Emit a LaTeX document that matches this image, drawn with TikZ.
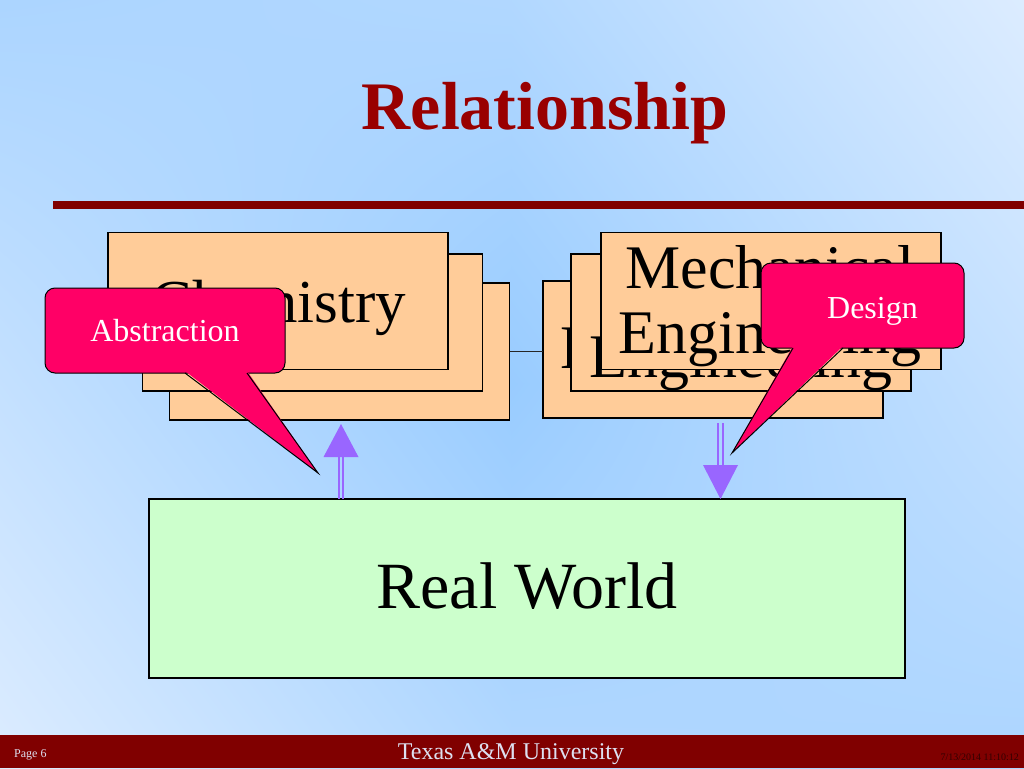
\documentclass[tikz,border=0pt]{standalone}
\usepackage{fontspec}
\setmainfont{Liberation Serif}
\usetikzlibrary{calc,shadings}
\definecolor{bgblue}{HTML}{99CCFF}
\definecolor{bglight}{HTML}{DCECFF}
\definecolor{titlered}{HTML}{990000}
\definecolor{rulered}{HTML}{800000}
\definecolor{peach}{HTML}{FFCC99}
\definecolor{mint}{HTML}{CCFFCC}
\definecolor{callpink}{HTML}{FF0066}
\definecolor{arrowpurple}{HTML}{9966FF}
\definecolor{footertext}{HTML}{DDE0F0}
\definecolor{datecol}{HTML}{330000}
\colorlet{bgA}{bglight!28!bgblue}
\colorlet{bgB}{bglight!36!bgblue}
\colorlet{bgC}{bglight!64!bgblue}
\begin{document}
\begin{tikzpicture}[x=1pt,y=-1pt,
  pbox/.style={draw=black, line width=1.4pt, fill=peach, minimum width=340pt, minimum height=137pt, inner sep=0pt, outer sep=0pt},
  boxtext/.style={font=\fontsize{62}{65}\selectfont, inner sep=0pt, anchor=base},
  callbox/.style={draw=black, line width=1pt, fill=callpink, rounded corners=10pt, inner sep=0pt, outer sep=0pt, text=white, font=\fontsize{32}{36}\selectfont},
  pointer/.style={draw=black, line width=1pt},
  shaft/.style={draw=arrowpurple, line width=1.6pt},
  head/.style={fill=arrowpurple}]
% background: diagonal gradient, light at top right and bottom left
\shade[upper left=bgA, upper right=bgB, lower left=bgC, lower right=bgblue] (0,0) rectangle (512.5,384.5);
\shade[upper left=bgB, upper right=bglight, lower left=bgblue, lower right=bgC] (511.5,0) rectangle (1024,384.5);
\shade[upper left=bgC, upper right=bgblue, lower left=bglight, lower right=bgB] (0,383.5) rectangle (512.5,768);
\shade[upper left=bgblue, upper right=bgC, lower left=bgB, lower right=bgA] (511.5,383.5) rectangle (1024,768);
\useasboundingbox (0,0) rectangle (1024,768);
% title and rule
\node[anchor=base, font=\bfseries\fontsize{68}{72}\selectfont, text=titlered, inner sep=0pt] (title) at (545,129) {Relationship};
\fill[rulered] (53,201) rectangle (1024,209);
% left stack
\node[pbox] (lback) at (339.5,351.5) {};
\node[pbox] (lmid) at (312.5,322.5) {};
\node[pbox] (lfront) at (278,301) {};
\node[boxtext, font=\fontsize{61}{65}\selectfont] (chem) at (279,322) {Chemistry};
% right stack
\node[pbox] (rback) at (713,349.5) {};
\draw[line width=1pt, draw=black!85] (lback.east) -- (lback.east -| rback.west);
\node[boxtext] (rbacktext) at (712,368) {Engineering};
\node[pbox] (rmid) at (741,322.5) {};
\node[boxtext] (rmidtext) at (741,377) {Engineering};
\node[pbox] (rfront) at (771,301) {};
\node[font=\fontsize{62}{65}\selectfont, align=center, inner sep=0pt, anchor=north] (mech) at (770,245.7) {Mechanical\\Engineering};
% real world
\node[draw=black, line width=1.4pt, fill=mint, minimum width=756pt, minimum height=179pt, inner sep=0pt, outer sep=0pt] (rw) at (527,588.5) {};
\node[font=\fontsize{66}{70}\selectfont, anchor=base, inner sep=0pt] (rwtext) at (527,608) {Real World};
% up arrow (abstraction)
\coordinate (upx) at (341,0);
\coordinate (upbase) at ($(lback.south -| upx)+(0,37)$);
\coordinate (uptip) at ($(lback.south -| upx)+(0,4)$);
\draw[shaft] ($(rw.north -| upx)+(-2,0)$) -- ($(upbase)+(-2,0)$);
\draw[shaft] ($(rw.north -| upx)+(2,0)$) -- ($(upbase)+(2,0)$);
\fill[head] ($(upbase)+(-17.5,0)$) -- ($(upbase)+(17.5,0)$) -- (uptip) -- cycle;
% down arrow (design)
\coordinate (dnx) at (720.5,0);
\coordinate (dnstart) at ($(rback.south -| dnx)+(0,5)$);
\coordinate (dnbase) at ($(rw.north -| dnx)+(0,-34)$);
\draw[shaft] ($(dnstart)+(-2.5,0)$) -- ($(dnbase)+(-2.5,0)$);
\draw[shaft] ($(dnstart)+(2.5,0)$) -- ($(dnbase)+(2.5,0)$);
\fill[head] ($(dnbase)+(-17.5,0)$) -- ($(dnbase)+(17.5,0)$) -- (rw.north -| dnx) -- cycle;
% abstraction callout
\node[callbox, minimum width=240pt, minimum height=85pt] (abs) at (165,330.5) {Abstraction};
\coordinate (abstip) at (318,473);
\fill[callpink] ($(abs.south west)+(140,-2)$) -- (abstip) -- ($(abs.south west)+(202,-2)$) -- cycle;
\draw[pointer] ($(abs.south west)+(140,0)$) -- (abstip) -- ($(abs.south west)+(202,0)$);
% design callout
\node[callbox, minimum width=203pt, minimum height=85pt] (des) at (862.5,305.5) {};
\node[text=white, font=\fontsize{32}{36}\selectfont, anchor=base, inner sep=0pt] (destext) at (872.5,318) {Design};
\coordinate (destip) at (732,453);
\fill[callpink] ($(des.south west)+(32,-2)$) -- (destip) -- ($(des.south west)+(82,-2)$) -- cycle;
\draw[pointer] ($(des.south west)+(32,0)$) -- (destip) -- ($(des.south west)+(82,0)$);
% footer
\fill[rulered] (0,735) rectangle (1024,768);
\node[anchor=base west, font=\fontsize{12}{14}\selectfont, text=footertext, inner sep=0pt] (page) at (14,757) {Page 6};
\node[anchor=base, font=\fontsize{24}{28}\selectfont, text=footertext, inner sep=0pt] (uni) at (511,759) {Texas A\&M University};
\node[anchor=base east, font=\fontsize{10}{12}\selectfont, text=datecol, inner sep=0pt] (date) at (1019,760) {7/13/2014 11:10:12};
\end{tikzpicture}
\end{document}
